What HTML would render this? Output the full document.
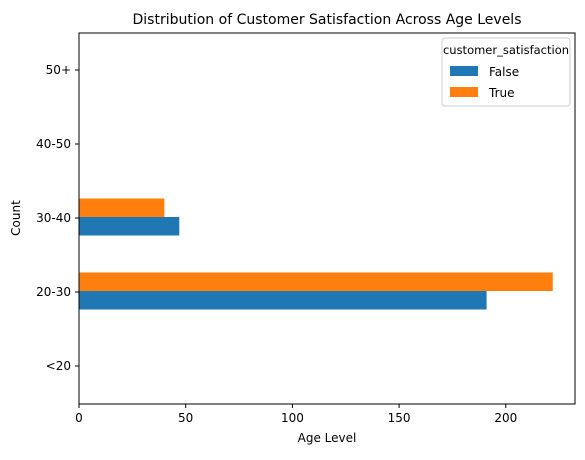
<!DOCTYPE html>
<html><head><meta charset="utf-8"><style>
body{margin:0;background:#fff;font-family:"Liberation Sans","DejaVu Sans",sans-serif;}
svg text{font-family:"DejaVu Sans","Liberation Sans",sans-serif;}
</style></head><body>
<svg id="chart" width="585" height="455" xmlns="http://www.w3.org/2000/svg">
<text x="327" y="24" font-size="14" text-anchor="middle">Distribution of Customer Satisfaction Across Age Levels</text>
<g id="bars"></g>
<rect x="79" y="33" width="496" height="371" fill="none" stroke="#000" stroke-width="1"/>
<g id="xticks"></g><g id="yticks"></g>
<text x="327" y="442" font-size="12" text-anchor="middle">Age Level</text>
<text x="20" y="218" font-size="12" text-anchor="middle" transform="rotate(-90 20 218)">Count</text>
<g>
<rect x="442" y="38" width="128" height="68" rx="3" fill="#fff" stroke="#ccc"/>
<text x="506" y="54" font-size="11.5" text-anchor="middle">customer_satisfaction</text>
<rect x="450" y="66" width="28" height="10" fill="#1f77b4"/>
<text x="489" y="76" font-size="12">False</text>
<rect x="450" y="87" width="28" height="10" fill="#ff7f0e"/>
<text x="489" y="97" font-size="12">True</text>
</g>
</svg>
<script>
const categories=["<20","20-30","30-40","40-50","50+"];
const falseValues=[0,191,47,0,0];
const trueValues=[0,222,40,0,0];
const xTicks=[0,50,100,150,200];
const NS="http://www.w3.org/2000/svg";
const x0=79,pxPer=2.134;
const xs=v=>x0+v*pxPer;
const yc=i=>366-i*74;
const bars=document.getElementById('bars');
function mk(t,a){const e=document.createElementNS(NS,t);for(const k in a)e.setAttribute(k,a[k]);return e;}
categories.forEach((c,i)=>{
  const bf=mk('rect',{x:x0,y:yc(i)-1,width:xs(falseValues[i])-x0,height:18.5,fill:'#1f77b4'});
  
  
  bars.appendChild(bf);
  const bt=mk('rect',{x:x0,y:yc(i)-19.5,width:xs(trueValues[i])-x0,height:18.5,fill:'#ff7f0e'});
  
  
  bars.appendChild(bt);
  const yt=document.getElementById('yticks');
  yt.appendChild(mk('line',{x1:75,x2:79,y1:yc(i),y2:yc(i),stroke:'#000'}));
  const tx=mk('text',{x:71,y:yc(i)+4,'font-size':12,'text-anchor':'end'});
  tx.textContent=c;
  
  
  yt.appendChild(tx);
});
const xt=document.getElementById('xticks');
xTicks.forEach(v=>{
  xt.appendChild(mk('line',{x1:xs(v),x2:xs(v),y1:404,y2:408,stroke:'#000'}));
  const tx=mk('text',{x:xs(v),y:422,'font-size':12,'text-anchor':'middle'});
  tx.textContent=v;
  
  
  xt.appendChild(tx);
});
</script>
</body></html>
